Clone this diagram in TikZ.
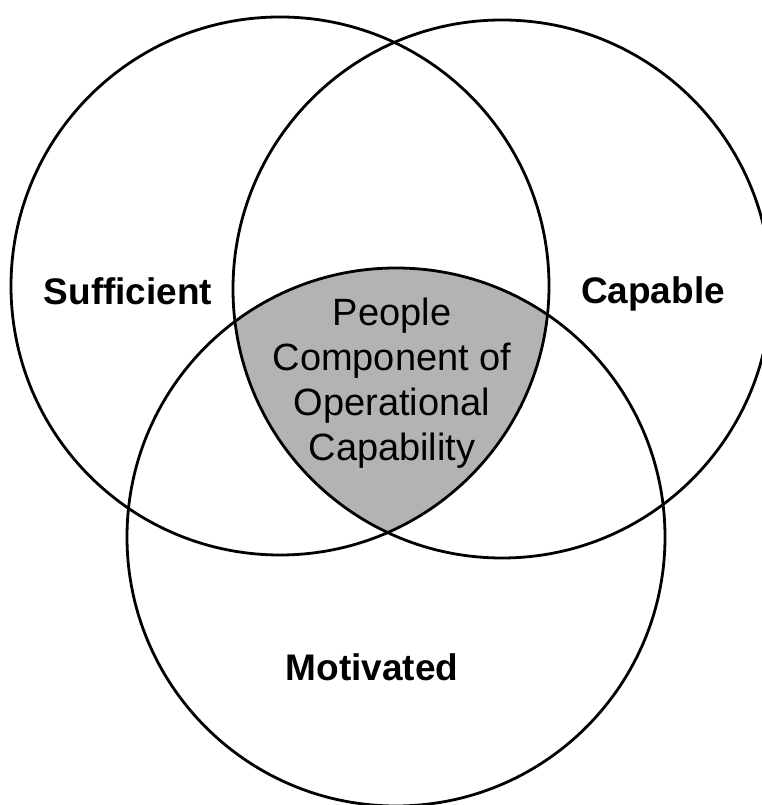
\documentclass[tikz,border=0pt]{standalone}
\usepackage{fontspec}
\setmainfont{Liberation Sans}
\usetikzlibrary{positioning}
\definecolor{coregray}{RGB}{179,179,181}

\begin{document}
\begin{tikzpicture}[x=1pt,y=1pt,
    ring/.style      = {draw=black, line width=2.8pt},
    setlabel/.style  = {font=\fontsize{37}{44}\selectfont\bfseries, inner sep=0pt},
    corelabel/.style = {font=\fontsize{38}{45}\selectfont, align=center, inner sep=0pt}]
  \useasboundingbox (0,0) rectangle (762,805);
  \coordinate (suff) at (280,519);
  \coordinate (capa) at (502,516);
  \coordinate (moti) at (396,268);
  % shaded core where all three overlap
  \begin{scope}
    \clip (suff) circle (269);
    \clip (capa) circle (269);
    \fill[coregray] (moti) circle (269);
  \end{scope}
  \draw[ring] (suff) circle (269);
  \draw[ring] (capa) circle (269);
  \draw[ring] (moti) circle (269);
  \node[setlabel, anchor=base] (sufficient) at (128,500) {Sufficient};
  \node[setlabel, anchor=base] (capable) at (653,501) {Capable};
  \node[setlabel, anchor=base] (motivated) at (372,124) {Motivated};
  \node[corelabel] (core) at (392,422) {People\\Component of\\Operational\\Capability};
\end{tikzpicture}
\end{document}
